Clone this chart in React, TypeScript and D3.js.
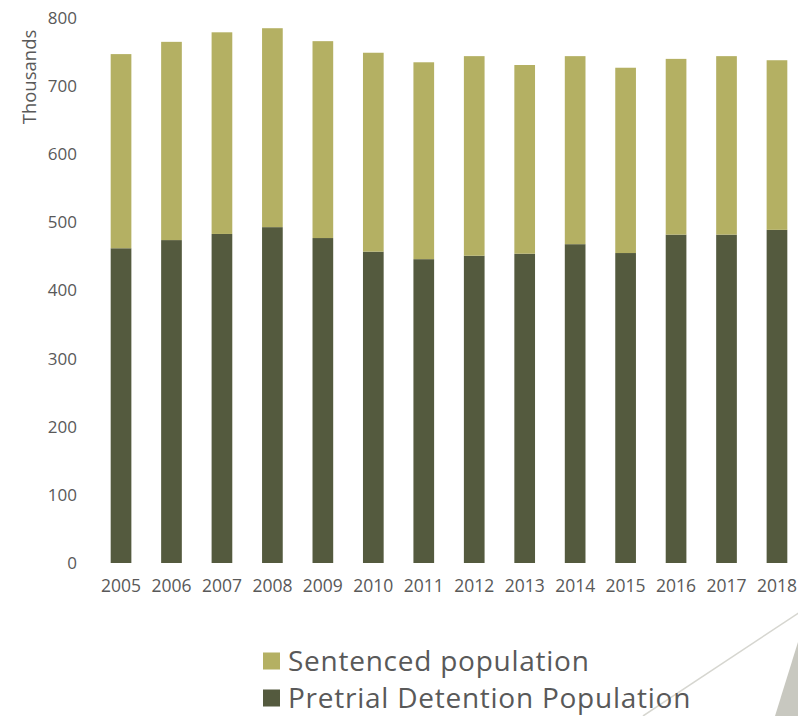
import React from "react";
import * as d3 from "d3";

const years = ["2005","2006","2007","2008","2009","2010","2011","2012","2013","2014","2015","2016","2017","2018"];
const pretrial = [462, 474, 483, 493, 477, 457, 446, 451, 454, 468, 455, 482, 482, 489];
const totals = [747, 765, 779, 785, 766, 749, 735, 744, 731, 744, 727, 740, 744, 738];
const sentenced = totals.map((t, i) => t - pretrial[i]);
const yTicks = [0, 100, 200, 300, 400, 500, 600, 700, 800];
const seriesNames = ["Sentenced population", "Pretrial Detention Population"];
const seriesColors = ["#b4b063", "#545a3e"];

const W = 798, H = 716;
const FONT = "'Open Sans', sans-serif";
const TEXT = "#595959";

export default function App() {
  const y = d3.scaleLinear().domain([0, 800]).range([563, 18]);
  const x = d3.scaleBand<string>().domain(years).range([95.8, 802.2]).paddingInner(0.59).paddingOuter(0.295);
  const bw = x.bandwidth();
  return (
    <div style={{ position: "absolute", left: 0, top: 0 }}>
      <svg width={W} height={H} style={{ display: "block", background: "#fff" }}>
        {/* decoration */}
        <line x1={643} y1={716} x2={800} y2={612} stroke="#d6d6d0" strokeWidth={1.5} />
        <polygon points="798,642 775,716 798,716" fill="#c8c8c0" />
        {/* bars */}
        {years.map((yr, i) => {
          const x0 = x(yr)!;
          return (
            <g key={yr}>
              <rect x={x0} width={bw} y={y(pretrial[i])} height={y(0) - y(pretrial[i])} fill={seriesColors[1]} />
              <rect x={x0} width={bw} y={y(totals[i])} height={y(pretrial[i]) - y(totals[i])} fill={seriesColors[0]} />
            </g>
          );
        })}
        {/* y ticks */}
        {yTicks.map((t) => (
          <text key={t} x={77} y={y(t)} dy="0.35em" textAnchor="end" fontFamily={FONT} fontSize={17} fill={TEXT}>
            {t}
          </text>
        ))}
        {/* x labels */}
        {years.map((yr) => (
          <text key={yr} x={x(yr)! + bw / 2} y={586} dy="0.35em" textAnchor="middle" fontFamily={FONT} fontSize={17.5} fill={TEXT}>
            {yr}
          </text>
        ))}
        <text transform="translate(36,77) rotate(-90)" textAnchor="middle" fontFamily={FONT} fontSize={18.5} fill={TEXT}>
          Thousands
        </text>
        {/* legend */}
        {seriesNames.map((n, i) => (
          <g key={n} transform={`translate(263,${661 + i * 37})`}>
            <rect x={0} y={-8.5} width={17} height={17} fill={seriesColors[i]} />
            <text x={25} y={0} dy="0.35em" fontFamily={FONT} fontSize={28} letterSpacing={0.75} fill={TEXT}>
              {n}
            </text>
          </g>
        ))}
      </svg>
    </div>
  );
}
